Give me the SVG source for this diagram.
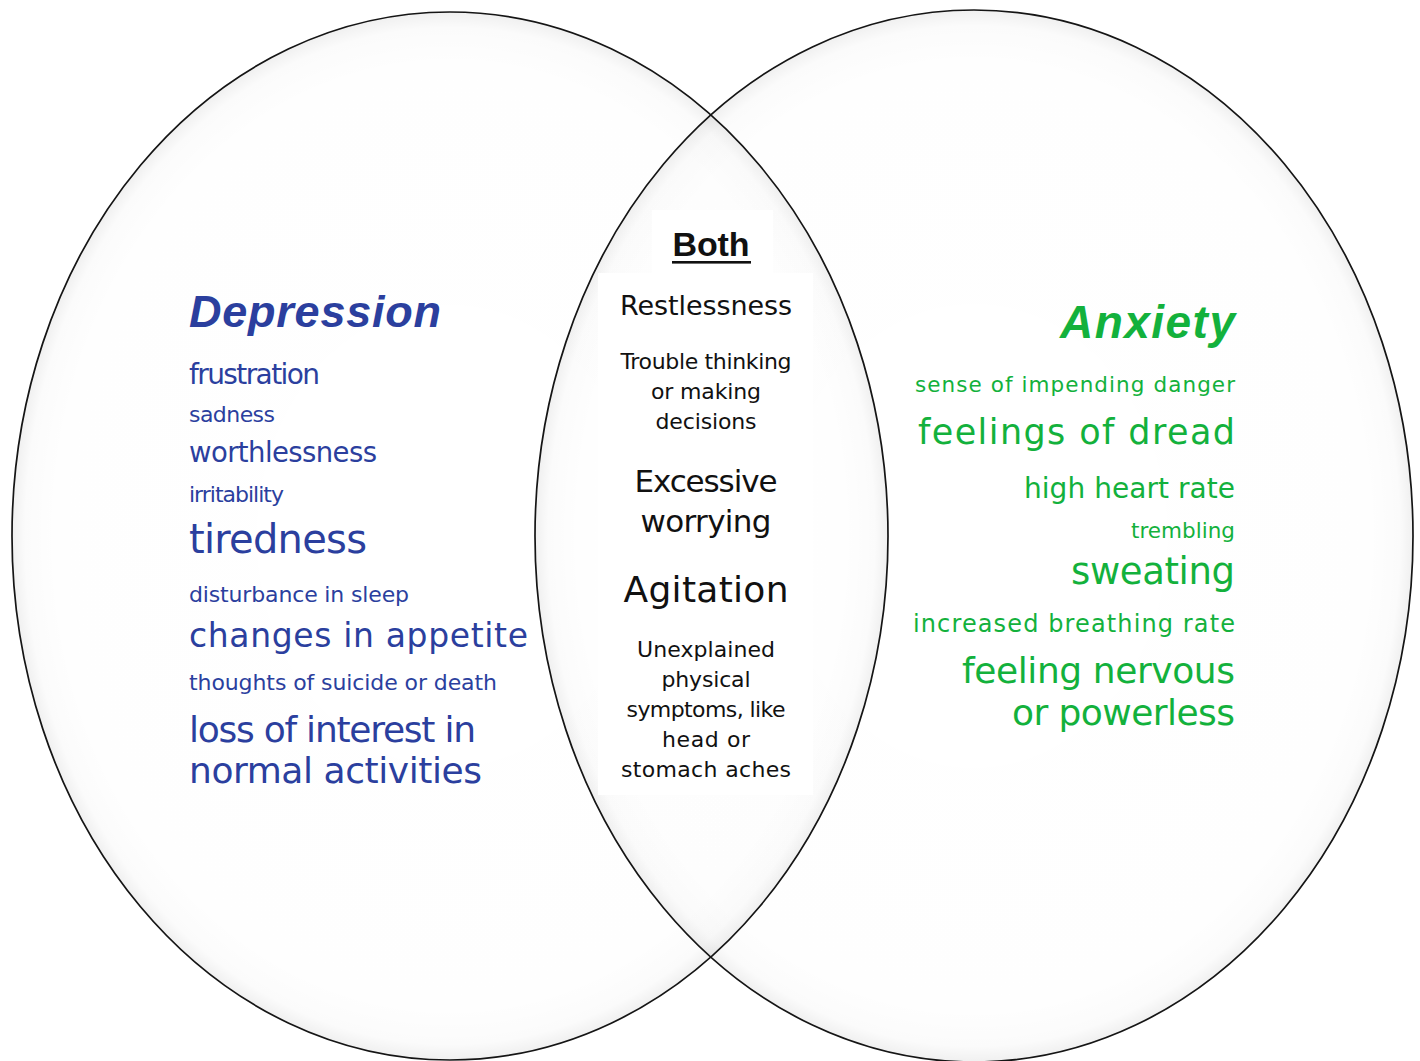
<svg xmlns="http://www.w3.org/2000/svg" width="1420" height="1061" viewBox="0 0 1420 1061">
  <defs>
    <!-- soft inner shading along each set's rim -->
    <radialGradient id="rim" cx="0.5" cy="0.5" r="0.5">
      <stop offset="0" stop-color="#000" stop-opacity="0"/>
      <stop offset="0.9" stop-color="#000" stop-opacity="0.004"/>
      <stop offset="0.97" stop-color="#000" stop-opacity="0.016"/>
      <stop offset="1" stop-color="#000" stop-opacity="0.06"/>
    </radialGradient>
    <style>
      .set { fill: url(#rim); }
      .rim { fill: none; stroke: #151515; stroke-width: 1.7; }
      text { font-family: "DejaVu Sans", "Liberation Sans", sans-serif; }
      .dep { fill: #2b3f9e; }
      .anx { fill: #13b13c; text-anchor: end; }
      .both { fill: #111; text-anchor: middle; }
      .title { font-family: "Liberation Sans", Arial, sans-serif; font-weight: bold; font-style: italic; }
      .head { font-family: "Liberation Sans", Arial, sans-serif; font-weight: bold; }
    </style>
  </defs>

  <rect width="1420" height="1061" fill="#fff"/>

  <!-- the two sets -->
  <g id="sets">
    <ellipse id="set-depression" class="set" cx="450" cy="536" rx="438" ry="524"/>
    <ellipse id="set-anxiety" class="set" cx="974" cy="536" rx="439" ry="526"/>
    <ellipse class="rim" cx="450" cy="536" rx="438" ry="524"/>
    <ellipse class="rim" cx="974" cy="536" rx="439" ry="526"/>
  </g>

  <!-- panels behind the shared list -->
  <g id="both-panels" fill="#fff">
    <rect x="652" y="210" width="121" height="64"/>
    <rect x="598" y="273" width="215" height="522"/>
  </g>

  <!-- Depression list -->
  <g id="depression" class="dep">
    <text class="title" x="189" y="327" font-size="45" textLength="252">Depression</text>
    <text x="189" y="384" font-size="28" textLength="131">frustration</text>
    <text x="189" y="422" font-size="22" textLength="86">sadness</text>
    <text x="189" y="462" font-size="27.5" textLength="188">worthlessness</text>
    <text x="189" y="502" font-size="22" textLength="95">irritability</text>
    <text x="189" y="553" font-size="40" textLength="178">tiredness</text>
    <text x="189" y="602" font-size="22" textLength="220">disturbance in sleep</text>
    <text x="189" y="647" font-size="33" textLength="339">changes in appetite</text>
    <text x="189" y="690" font-size="22" textLength="308">thoughts of suicide or death</text>
    <text x="189" y="742" font-size="36" textLength="287">loss of interest in</text>
    <text x="189" y="783" font-size="36" textLength="293">normal activities</text>
  </g>

  <!-- Anxiety list -->
  <g id="anxiety" class="anx">
    <text class="title" x="1235" y="338" font-size="46" textLength="175">Anxiety</text>
    <text x="1235" y="392" font-size="21.5" textLength="320">sense of impending danger</text>
    <text x="1235" y="444" font-size="35" textLength="317">feelings of dread</text>
    <text x="1235" y="498" font-size="28" textLength="211">high heart rate</text>
    <text x="1235" y="538" font-size="21.5" textLength="104">trembling</text>
    <text x="1235" y="584" font-size="37" textLength="164">sweating</text>
    <text x="1235" y="632" font-size="24" textLength="322">increased breathing rate</text>
    <text x="1235" y="683" font-size="36" textLength="273">feeling nervous</text>
    <text x="1235" y="725" font-size="36" textLength="223">or powerless</text>
  </g>

  <!-- Shared list -->
  <g id="both" class="both">
    <text class="head" x="711" y="256" font-size="34" textLength="77">Both</text>
    <rect x="672" y="261" width="79" height="2.6" fill="#111"/>
    <text x="706" y="315" font-size="27" textLength="172">Restlessness</text>
    <text x="706" y="369" font-size="22" textLength="171">Trouble thinking</text>
    <text x="706" y="399" font-size="22" textLength="110">or making</text>
    <text x="706" y="429" font-size="22" textLength="101">decisions</text>
    <text x="706" y="492" font-size="31" textLength="143">Excessive</text>
    <text x="706" y="532" font-size="31" textLength="131">worrying</text>
    <text x="706" y="602" font-size="36" textLength="165">Agitation</text>
    <text x="706" y="657" font-size="22" textLength="138">Unexplained</text>
    <text x="706" y="687" font-size="22" textLength="89">physical</text>
    <text x="706" y="717" font-size="22" textLength="159">symptoms, like</text>
    <text x="706" y="747" font-size="22" textLength="88">head or</text>
    <text x="706" y="777" font-size="22" textLength="170">stomach aches</text>
  </g>
</svg>
